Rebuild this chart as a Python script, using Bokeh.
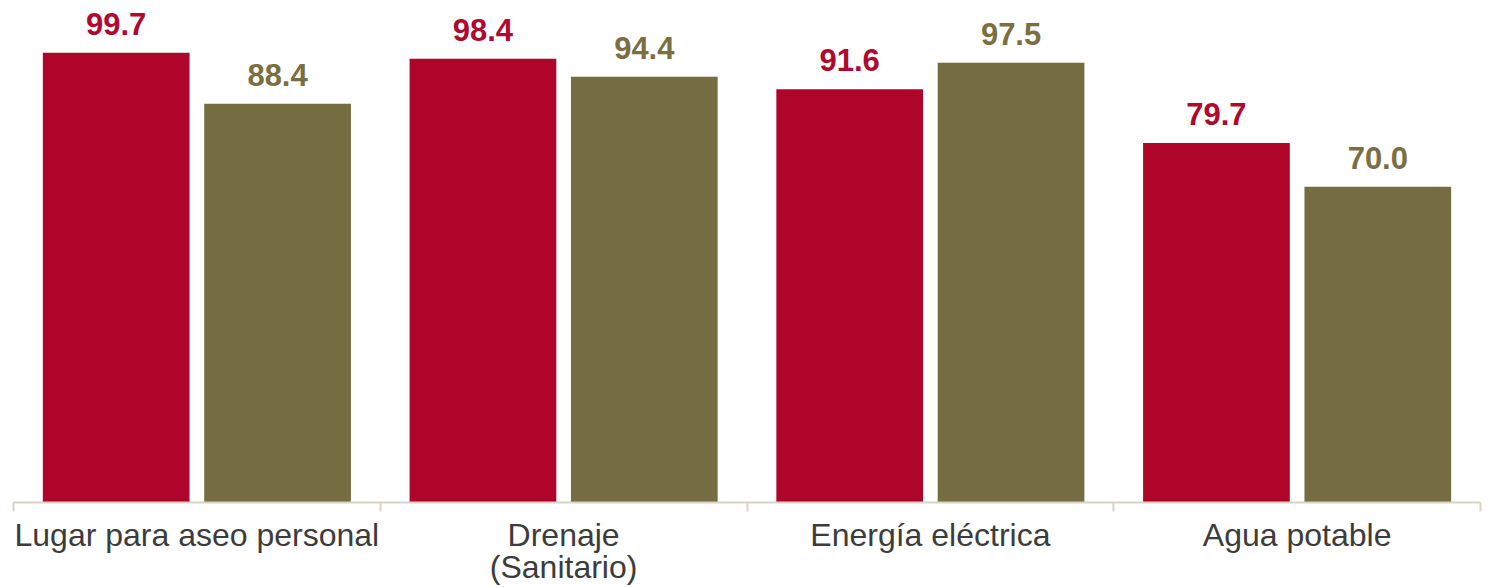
import numpy as np
from bokeh.plotting import figure
from bokeh.models import ColumnDataSource, Range1d, FixedTicker
from bokeh.transform import dodge
from bokeh.core.properties import value
from bokeh.embed import file_html
from bokeh.resources import INLINE

categories = ["Lugar para aseo personal", "Drenaje\n(Sanitario)", "Energía eléctrica", "Agua potable"]
serie_a = [99.7, 98.4, 91.6, 79.7]
serie_b = [88.4, 94.4, 97.5, 70.0]

RED = "#AF052B"
OLIVE = "#756C42"

xpos = np.arange(len(categories)) + 0.5
src = ColumnDataSource(dict(
    x=xpos,
    a=serie_a,
    b=serie_b,
    la=[f"{v:.1f}" for v in serie_a],
    lb=[f"{v:.1f}" for v in serie_b],
))

p = figure(width=1493, height=587, output_backend="svg", toolbar_location=None,
           x_range=Range1d(0, 4), y_range=Range1d(0, 111.3),
           min_border_left=13, min_border_right=13, min_border_top=0, min_border_bottom=70)
p.outline_line_color = None
p.grid.visible = False
p.yaxis.visible = False

p.vbar(x=dodge("x", -0.22), top="a", width=0.40, bottom=0, source=src,
       fill_color=RED, line_color=None)
p.vbar(x=dodge("x", 0.22), top="b", width=0.40, bottom=0, source=src,
       fill_color=OLIVE, line_color=None)

p.text(x=dodge("x", -0.22), y="a", text="la", source=src, text_align="center",
       text_baseline="alphabetic", y_offset=-29, text_color="#B0082E",
       text_font=value("Liberation Sans"), text_font_style="bold", text_font_size="31px")
p.text(x=dodge("x", 0.22), y="b", text="lb", source=src, text_align="center",
       text_baseline="alphabetic", y_offset=-29, text_color="#7A6F42",
       text_font=value("Liberation Sans"), text_font_style="bold", text_font_size="31px")

ax = p.xaxis[0]
ax.ticker = FixedTicker(ticks=list(xpos), minor_ticks=list(range(len(categories) + 1)))
ax.major_label_overrides = {float(x): c for x, c in zip(xpos, categories)}
ax.major_tick_out = 0
ax.major_tick_in = 0
ax.minor_tick_out = 9
ax.minor_tick_in = 0
ax.minor_tick_line_color = "#D9D4C1"
ax.minor_tick_line_width = 2
ax.axis_line_color = "#D9D4C1"
ax.axis_line_width = 2
ax.major_label_standoff = 5
ax.major_label_text_font = "Liberation Sans"
ax.major_label_text_font_size = "32px"
ax.major_label_text_color = "#3C3C3C"
ax.major_label_text_line_height = 0.9

open("out.html", "w").write(file_html(p, INLINE))
